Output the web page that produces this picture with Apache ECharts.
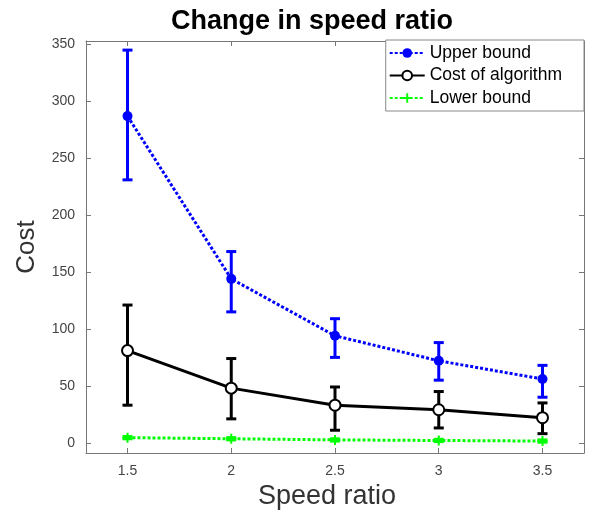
<!DOCTYPE html>
<html>
<head>
<meta charset="utf-8">
<script src="https://cdn.jsdelivr.net/npm/echarts@6/dist/echarts.min.js"></script>
<style>
  html, body { margin: 0; padding: 0; background: #fff; }
  #chart { width: 592px; height: 512px; }
</style>
</head>
<body>
<div id="chart"></div>
<script>
// speed ratio categories
const speedRatio = [1.5, 2, 2.5, 3, 3.5];

// upper bound: mean and error range
const upperMean = [287, 144, 94, 72, 56];
const upperLow  = [231, 115, 75, 55, 40];
const upperHigh = [345, 168, 109, 88, 68];

// cost of algorithm
const costMean = [81, 48, 33, 29, 22];
const costLow  = [33, 21, 11, 13, 8];
const costHigh = [121, 74, 49, 45, 35];

// lower bound
const lowerMean = [4.5, 3.5, 2.5, 2, 1.5];
const lowerLow  = [3.5, 2.5, 1.5, 1, 0.5];
const lowerHigh = [5.5, 4.5, 3.5, 3, 2.5];

const xTicks = [1.5, 2, 2.5, 3, 3.5];
const yTicks = [0, 50, 100, 150, 200, 250, 300, 350];

const FONT = '"Liberation Sans", Arial, sans-serif';
const plusIcon = 'path://M4,0 L6,0 L6,4 L10,4 L10,6 L6,6 L6,10 L4,10 L4,6 L0,6 L0,4 L4,4 Z';

function pairs(ys) {
  return speedRatio.map((x, i) => [x, ys[i]]);
}

function errorData(lo, hi) {
  return speedRatio.map((x, i) => [x, lo[i], hi[i]]);
}

// error bar drawn from the axis scale
function errorBar(color) {
  return function (params, api) {
    const x = api.value(0);
    const lo = api.coord([x, api.value(1)]);
    const hi = api.coord([x, api.value(2)]);
    const w = 5;
    const style = { stroke: color, lineWidth: 3 };
    return {
      type: 'group',
      children: [
        { type: 'line', shape: { x1: lo[0], y1: lo[1], x2: hi[0], y2: hi[1] }, style: style },
        { type: 'line', shape: { x1: lo[0] - w, y1: lo[1], x2: lo[0] + w, y2: lo[1] }, style: style },
        { type: 'line', shape: { x1: hi[0] - w, y1: hi[1], x2: hi[0] + w, y2: hi[1] }, style: style }
      ]
    };
  };
}

const axisLineStyle = { color: '#777', width: 1 };
const labelStyle = { color: '#444', fontSize: 14, fontFamily: FONT };

function frameAxis(position, min, max, ticks) {
  return {
    type: 'value',
    position: position,
    min: min,
    max: max,
    axisLine: { show: true, onZero: false, lineStyle: axisLineStyle },
    axisTick: { show: true, inside: true, length: 5, lineStyle: axisLineStyle, customValues: ticks },
    axisLabel: { show: false },
    splitLine: { show: false }
  };
}

const option = {
  animation: false,
  backgroundColor: '#fff',
  title: {
    text: 'Change in speed ratio',
    left: 166,
    top: 3,
    textStyle: { fontSize: 27, fontWeight: 'bold', color: '#000', fontFamily: FONT }
  },
  legend: {
    orient: 'vertical',
    right: 8,
    top: 40,
    itemWidth: 35,
    itemHeight: 12,
    itemGap: 4.5,
    padding: [4, 22, 4, 3],
    borderColor: '#888',
    borderWidth: 1,
    borderRadius: 0,
    backgroundColor: '#fff',
    textStyle: { fontSize: 17.5, color: '#000', fontFamily: FONT },
    data: ['Upper bound', 'Cost of algorithm', 'Lower bound']
  },
  grid: { left: 86, right: 8, top: 41, bottom: 59, outerBoundsMode: 'none', containLabel: false },
  xAxis: [
    {
      type: 'value',
      min: 1.3,
      max: 3.7,
      name: 'Speed ratio',
      nameLocation: 'middle',
      nameGap: 30,
      nameTextStyle: { fontSize: 27, color: '#333', fontFamily: FONT, padding: [0, 16, 0, 0] },
      axisLine: { show: true, onZero: false, lineStyle: axisLineStyle },
      axisTick: { show: true, inside: true, length: 5, lineStyle: axisLineStyle, customValues: xTicks },
      axisLabel: { customValues: xTicks, margin: 11, ...labelStyle },
      splitLine: { show: false }
    },
    frameAxis('top', 1.3, 3.7, xTicks)
  ],
  yAxis: [
    {
      type: 'value',
      min: -9,
      max: 353,
      name: 'Cost',
      nameLocation: 'middle',
      nameRotate: 90,
      nameGap: 46,
      nameTextStyle: { fontSize: 26, color: '#333', fontFamily: FONT },
      axisLine: { show: true, onZero: false, lineStyle: axisLineStyle },
      axisTick: { show: true, inside: true, length: 5, lineStyle: axisLineStyle, customValues: yTicks },
      axisLabel: { customValues: yTicks, margin: 11, ...labelStyle },
      splitLine: { show: false }
    },
    frameAxis('right', -9, 353, yTicks)
  ],
  series: [
    {
      type: 'custom',
      renderItem: errorBar('#0000ff'),
      data: errorData(upperLow, upperHigh),
      encode: { x: 0, y: [1, 2] },
      z: 1,
      silent: true
    },
    {
      type: 'custom',
      renderItem: errorBar('#000000'),
      data: errorData(costLow, costHigh),
      encode: { x: 0, y: [1, 2] },
      z: 1,
      silent: true
    },
    {
      type: 'custom',
      renderItem: errorBar('#00ff00'),
      data: errorData(lowerLow, lowerHigh),
      encode: { x: 0, y: [1, 2] },
      z: 1,
      silent: true
    },
    {
      name: 'Upper bound',
      type: 'line',
      data: pairs(upperMean),
      symbol: 'circle',
      symbolSize: 10,
      itemStyle: { color: '#0000ff' },
      lineStyle: { color: '#0000ff', width: 3, type: [3, 2] },
      z: 3
    },
    {
      name: 'Cost of algorithm',
      type: 'line',
      data: pairs(costMean),
      symbol: 'emptyCircle',
      symbolSize: 11,
      itemStyle: { color: '#000', borderColor: '#000', borderWidth: 2.5 },
      lineStyle: { color: '#000', width: 3 },
      z: 3
    },
    {
      name: 'Lower bound',
      type: 'line',
      data: pairs(lowerMean),
      symbol: plusIcon,
      symbolSize: 10,
      itemStyle: { color: '#00ff00' },
      lineStyle: { color: '#00ff00', width: 3, type: [3, 2] },
      z: 3
    }
  ]
};

const myChart = echarts.init(document.getElementById('chart'), null, { renderer: 'canvas' });
myChart.setOption(option);
</script>
</body>
</html>
